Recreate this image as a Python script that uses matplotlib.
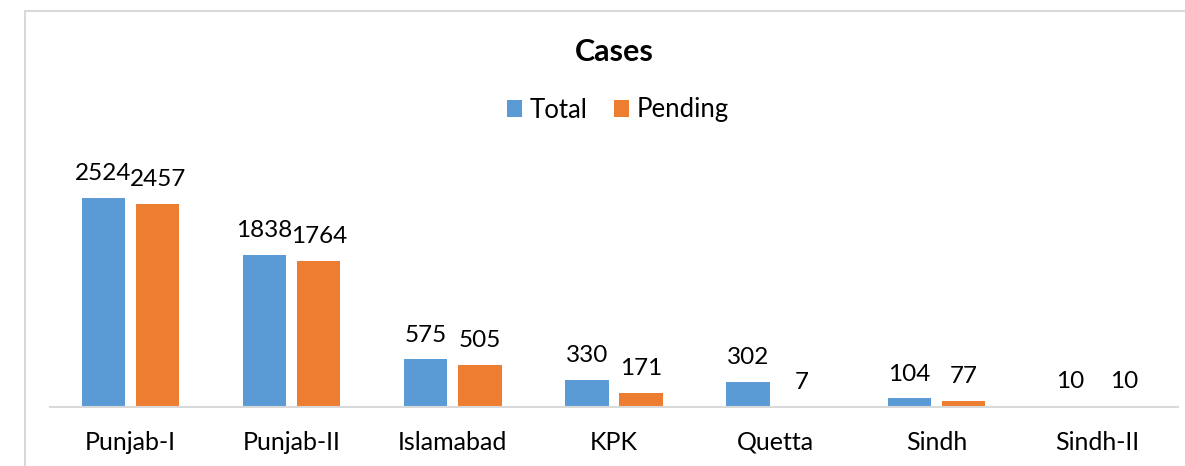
import numpy as np
import matplotlib.pyplot as plt
from matplotlib.patches import Rectangle

# data
regions = ["Punjab-I", "Punjab-II", "Islamabad", "KPK", "Quetta", "Sindh", "Sindh-II"]
total = [2524, 1838, 575, 330, 302, 104, 10]
pending = [2457, 1764, 505, 171, 7, 77, 10]

blue = "#5b9bd5"
orange = "#ed7d31"
plt.rcParams["font.family"] = ["Lato", "DejaVu Sans"]

fig = plt.figure(figsize=(11.85, 4.66), dpi=100)
W, H = 1185, 466

# outer chart frame (cropped at right/bottom)
fig.patches.append(Rectangle((25 / W, -0.1), 1.2, 1.1 - 11 / H, transform=fig.transFigure,
                             fill=False, edgecolor="#d9d9d9", linewidth=1.5))

ax = fig.add_axes([50 / W, 1 - 407 / H, 1128 / W, 248 / H])
x = np.arange(len(regions))
w = 0.268
off = 0.168
b1 = ax.bar(x - off, total, w, color=blue)
b2 = ax.bar(x + off, pending, w, color=orange)

for bars, vals in ((b1, total), (b2, pending)):
    for rect, v in zip(bars, vals):
        ax.annotate(str(v), (rect.get_x() + rect.get_width() / 2, rect.get_height()),
                    xytext=(0, 10), textcoords="offset points", ha="center", va="bottom",
                    fontsize=17.5, color="#000000")

ax.set_xlim(-0.5, len(regions) - 0.5)
ax.set_ylim(0, 3000)
ax.set_xticks(x)
ax.set_xticklabels(regions, fontsize=18, color="#000000")
ax.tick_params(axis="x", length=0, pad=17)
ax.set_yticks([])
for s in ["top", "left", "right"]:
    ax.spines[s].set_visible(False)
ax.spines["bottom"].set_color("#d9d9d9")
ax.spines["bottom"].set_linewidth(1.5)

fig.text(614 / W, 1 - 52 / H, "Cases", ha="center", va="center", fontsize=22, fontweight="bold")
fig.legend([b1, b2], ["Total", "Pending"], loc="center", bbox_to_anchor=(618 / W, 1 - 110 / H),
           ncol=2, frameon=False, fontsize=18.5, handlelength=0.6, handleheight=0.6,
           handletextpad=0.3, columnspacing=1.0)

fig.savefig("out.png", dpi=100)
